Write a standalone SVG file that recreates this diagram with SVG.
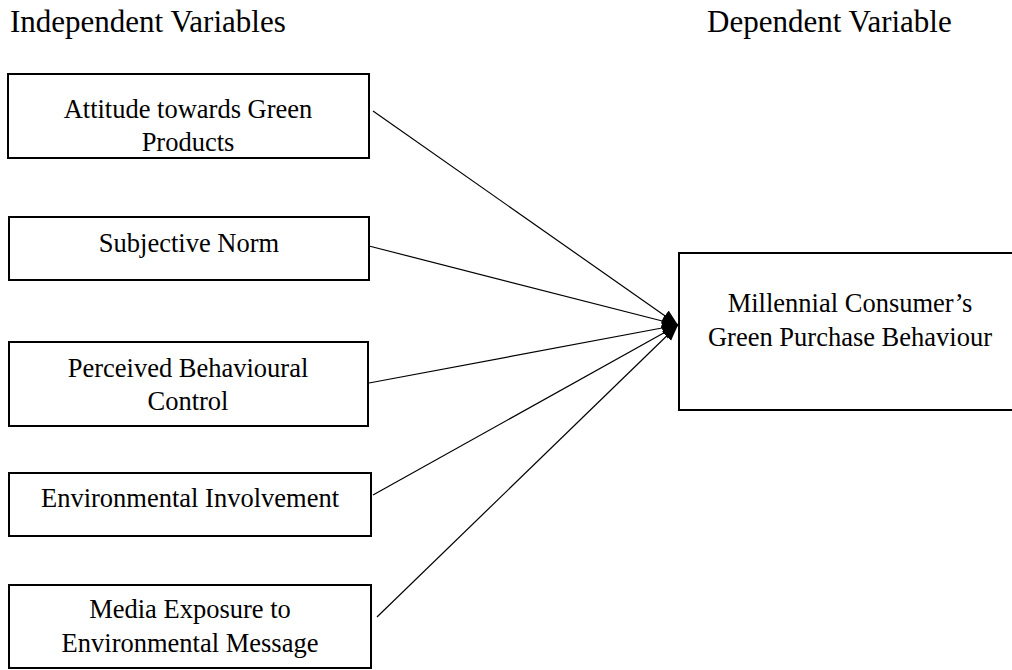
<svg xmlns="http://www.w3.org/2000/svg" width="1012" height="670" viewBox="0 0 1012 670">
<style>
.box{fill:#fff;stroke:#000;stroke-width:2}
.t{font-family:"Liberation Serif","Times New Roman",serif;font-size:26.5px;fill:#000;text-anchor:middle}
.h{font-family:"Liberation Serif","Times New Roman",serif;font-size:31px;fill:#000}
.c{stroke:#000;stroke-width:1.2;fill:none;marker-end:url(#ah)}
</style>
<defs>
<marker id="ah" markerUnits="userSpaceOnUse" markerWidth="18" markerHeight="16" refX="16" refY="8" orient="auto">
<path d="M0,1.5 L16,8 L0,14.5 Z" fill="#000"/>
</marker>
</defs>
<text class="h" x="10" y="32">Independent Variables</text>
<text class="h" x="707" y="32">Dependent Variable</text>
<g id="connectors">
<line class="c" x1="373" y1="111" x2="678" y2="325"/>
<line class="c" x1="369" y1="246" x2="678" y2="325"/>
<line class="c" x1="369" y1="383" x2="678" y2="325"/>
<line class="c" x1="373" y1="495" x2="678" y2="325"/>
<line class="c" x1="377" y1="617" x2="678" y2="325"/>
</g>
<g id="n1">
<rect class="box" x="8" y="74" width="361" height="84"/>
<text class="t" x="188" y="118">Attitude towards Green</text>
<text class="t" x="188" y="151">Products</text>
</g>
<g id="n2">
<rect class="box" x="9" y="217" width="360" height="63"/>
<text class="t" x="189" y="252">Subjective Norm</text>
</g>
<g id="n3">
<rect class="box" x="9" y="342" width="359" height="84"/>
<text class="t" x="188" y="377">Perceived Behavioural</text>
<text class="t" x="188" y="410">Control</text>
</g>
<g id="n4">
<rect class="box" x="9" y="473" width="362" height="63"/>
<text class="t" x="190" y="507">Environmental Involvement</text>
</g>
<g id="n5">
<rect class="box" x="9" y="585" width="362" height="83"/>
<text class="t" x="190" y="618">Media Exposure to</text>
<text class="t" x="190" y="652">Environmental Message</text>
</g>
<g id="n6">
<rect class="box" x="679" y="253" width="340" height="157"/>
<text class="t" x="850" y="312">Millennial Consumer’s</text>
<text class="t" x="850" y="346">Green Purchase Behaviour</text>
</g>
</svg>
